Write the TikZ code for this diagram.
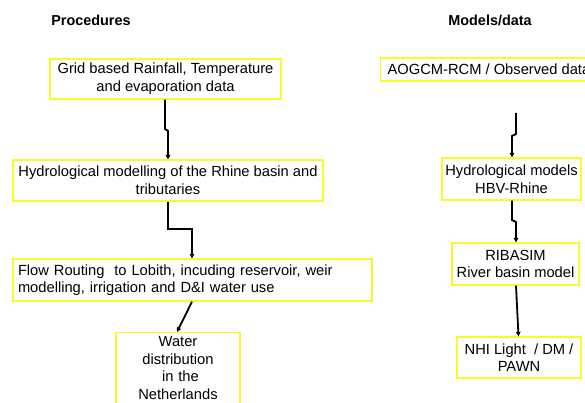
\documentclass[tikz,border=0pt]{standalone}
\usepackage{fontspec}
\setmainfont{Liberation Sans}
\usetikzlibrary{arrows.meta}
\definecolor{boxyellow}{RGB}{250,250,40}
\tikzset{
  box/.style={draw=boxyellow, line width=1.3pt, inner sep=0pt, align=center,
    font=\fontsize{14.7pt}{17.6pt}\selectfont},
  title/.style={font=\fontsize{14.4pt}{17.6pt}\selectfont\bfseries, inner sep=0pt},
  conn/.style={line width=1.8pt, line join=miter, -{Triangle[length=4.5pt,width=4.5pt]}},
}
\begin{document}
\begin{tikzpicture}[x=1pt,y=-1pt]
\useasboundingbox (0,0) rectangle (585,403);
\clip (0,0) rectangle (585,403);
\fill[white] (0,0) rectangle (585,403);

\node[title] (tp) at (91,20.5) {Procedures};
\node[title] (tm) at (490,20.5) {Models/data};

% left column
\node[box, minimum width=231pt, minimum height=40pt] (b1) at (165.5,79)
  {Grid based Rainfall, Temperature\\and evaporation data};
\node[box, minimum width=310pt, minimum height=41pt] (b2) at (168,180.5)
  {Hydrological modelling of the Rhine basin and\\tributaries};
\node[box, text width=349pt, inner xsep=5pt, minimum height=42pt, align=left] (b3) at (192.5,280)
  {Flow Routing\ \ to Lobith, incuding reservoir, weir\\modelling, irrigation and D\&I water use};
\node[box, anchor=north, text width=114pt, inner xsep=5pt, inner ysep=4pt, align=center] (b4) at (178,332)
  {Water\\distribution\\\ in the\\Netherlands\\[6pt]};

% right column
\node[box, anchor=west, inner xsep=7pt, minimum height=23pt] (r1) at (380,69.5)
  {AOGCM-RCM / Observed data};
\node[box, minimum width=139pt, minimum height=42pt] (r2) at (511.5,179)
  {Hydrological models\\HBV-Rhine};
\node[box, minimum width=127pt, minimum height=42pt] (r3) at (515.5,264)
  {RIBASIM\\River basin model};
\node[box, minimum width=124pt, minimum height=41pt] (r4) at (519,357.5)
  {NHI Light\ \ / DM /\\PAWN};

% connector coordinates
\coordinate (c1a) at (165,129);
\coordinate (c1b) at (168,131);
\coordinate (c2a) at (168,229);
\coordinate (c2b) at (192,229);
\coordinate (c3a) at (192,0);
\coordinate (c3b) at (177,0);
\coordinate (r0) at (516,113);
\coordinate (d1a) at (516,134);
\coordinate (d1b) at (512,136);
\coordinate (d2a) at (512,220);
\coordinate (d2b) at (516,222);
\coordinate (d3a) at (516,0);
\coordinate (d3b) at (518.5,0);

\draw[conn] (b1.south -| c1a) -- (c1a) -- (c1b) -- (b2.north -| c1b);
\draw[conn] (b2.south -| c2a) -- (c2a) -- (c2b) -- (b3.north -| c2b);
\draw[conn] (b3.south -| c3a) -- (b4.north -| c3b);

\draw[conn] (r0) -- (d1a) -- (d1b) -- (r2.north -| d1b);
\draw[conn] (r2.south -| d2a) -- (d2a) -- (d2b) -- (r3.north -| d2b);
\draw[conn] (r3.south -| d3a) -- (r4.north -| d3b);
\end{tikzpicture}
\end{document}
